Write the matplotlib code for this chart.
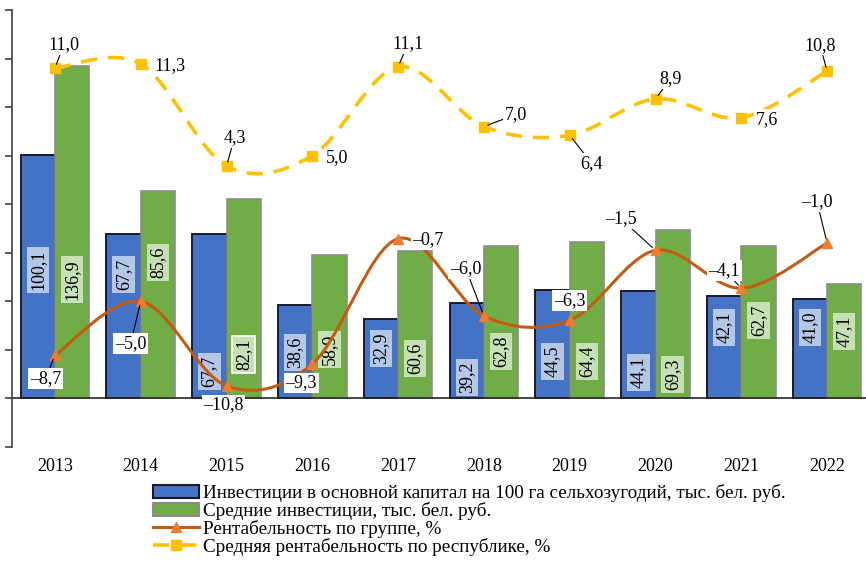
import numpy as np, matplotlib; matplotlib.use("Agg")
import matplotlib.pyplot as plt
from matplotlib.path import Path
from matplotlib.patches import PathPatch, Patch
from matplotlib.lines import Line2D
plt.rcParams['font.family']=['Liberation Serif','DejaVu Serif']; plt.rcParams['font.size']=13

years=['2013','2014','2015','2016','2017','2018','2019','2020','2021','2022']
invest=[100.1,67.7,67.7,38.6,32.9,39.2,44.5,44.1,42.1,41.0]
avg_invest=[136.9,85.6,82.1,58.9,60.6,62.8,64.4,69.3,62.7,47.1]
prof=[-8.7,-5.0,-10.8,-9.3,-0.7,-6.0,-6.3,-1.5,-4.1,-1.0]
rep_prof=[11.0,11.3,4.3,5.0,11.1,7.0,6.4,8.9,7.6,10.8]
labels=['Инвестиции в основной капитал на 100 га сельхозугодий, тыс. бел. руб.','Средние инвестиции, тыс. бел. руб.',
        'Рентабельность по группе, %','Средняя рентабельность по республике, %']

# label placement (not data)
inv_lab_y=[53,51,11,19,20.5,8.6,15.2,10.7,29.2,29.2]
avg_lab_y=[49,56,18,20.2,16.5,19.3,15.2,9.9,32,27.6]
prof_off=[(-9,-23),(-10,-42),(-3,-19),(-11,-19),(30,-1),(-18,47),(0,20),(-35,32),(-17,18),(-10,41)]
prof_lead=[1,1,0,0,0,1,0,1,1,1]
rep_off=[(9,24),(29,-2),(8,28),(25,-2),(10,23),(32,12),(22,-28),(15,20),(26,-2),(-7,26)]
rep_lead=[1,0,1,0,1,1,1,1,0,1]

BLUE,GREEN,ORL,ORM,YEL='#4472C4','#70AD47','#C55A11','#ED7D31','#FFC000'
fmt=lambda v:f"{v:.1f}".replace('.',',').replace('-','–')

def smooth(xs,ys):
    p=np.column_stack([xs,ys]).astype(float); n=len(p)
    verts=[p[0]]; codes=[Path.MOVETO]
    for i in range(n-1):
        p0=p[max(i-1,0)]; p1=p[i]; p2=p[i+1]; p3=p[min(i+2,n-1)]
        verts+=[p1+(p2-p0)/6,p2-(p3-p1)/6,p2]; codes+=[Path.CURVE4]*3
    return Path(verts,codes)

fig=plt.figure(figsize=(8.66,5.63),dpi=100)
ax=fig.add_axes([12/866,116/563,858/866,437/563])
x=np.arange(len(years))
ax.bar(x-0.2,invest,0.4,color=BLUE,edgecolor='#1a1a2e',lw=1.4,zorder=2)
ax.bar(x+0.2,avg_invest,0.4,color=GREEN,edgecolor='#8c8c8c',lw=1.2,zorder=2)
for i in x:
    ax.text(i-0.2,inv_lab_y[i],fmt(invest[i]),rotation=90,ha='center',va='center',zorder=3,
            bbox=dict(boxstyle='square,pad=0.15',fc='#B4C7E7',ec='none'))
    ax.text(i+0.2,avg_lab_y[i],fmt(avg_invest[i]),rotation=90,ha='center',va='center',zorder=3,
            bbox=dict(boxstyle='square,pad=0.15',fc='#C5E0B4',ec='white' if i==2 else 'none',lw=1.2))
ax.axhline(0,color='#262626',lw=1.2,zorder=2.5)
ax.set_xlim(-0.5,9.5); ax.set_ylim(-20,160); ax.set_yticks(range(-20,161,20))
ax.set_xticks(x,years); ax.tick_params(axis='x',length=0,pad=8)
ax.tick_params(axis='y',direction='out',length=5,labelleft=False,color='#404040',width=1.2)
for sp in ['top','right','bottom']: ax.spines[sp].set_visible(False)
ax.spines['left'].set_color('#404040'); ax.spines['left'].set_linewidth(1.2)

ax2=ax.twinx(); ax2.set_ylim(-15,15); ax2.set_axis_off()
ax2.add_patch(PathPatch(smooth(x,prof),fc='none',ec=ORL,lw=2.2,zorder=3))
ax2.plot(x,prof,ls='none',marker='^',ms=7.5,color=ORM,zorder=4)
ax2.add_patch(PathPatch(smooth(x,rep_prof),fc='none',ec=YEL,lw=2.6,ls=(0,(4.5,3)),zorder=3))
ax2.plot(x,rep_prof,ls='none',marker='s',ms=7,color=YEL,zorder=4)
for vals,offs,lead in [(prof,prof_off,prof_lead),(rep_prof,rep_off,rep_lead)]:
    for i in x:
        ax2.annotate(fmt(vals[i]),(i,vals[i]),xytext=offs[i],textcoords='offset pixels',ha='center',va='center',zorder=5,
                     bbox=dict(boxstyle='square,pad=0.1',fc='white',ec='none'),
                     arrowprops=dict(arrowstyle='-',color='black',lw=0.8,shrinkA=0,shrinkB=3) if lead[i] else None)

h=[Patch(fc=BLUE,ec='#1a1a2e',lw=1.5),Patch(fc=GREEN,ec='#8c8c8c',lw=1.5),
   Line2D([],[],color=ORL,lw=2.2,marker='^',mfc=ORM,mec=ORM,ms=7.5),
   Line2D([],[],color=YEL,lw=2.6,ls=(0,(4.5,3)),marker='s',ms=7)]
fig.legend(h,labels,loc='upper left',bbox_to_anchor=(153/866,1-484/563),frameon=False,handlelength=2.4,
           handletextpad=0.2,labelspacing=0.0,borderpad=0,borderaxespad=0,fontsize=13.8)
fig.savefig("out.png",dpi=100)
